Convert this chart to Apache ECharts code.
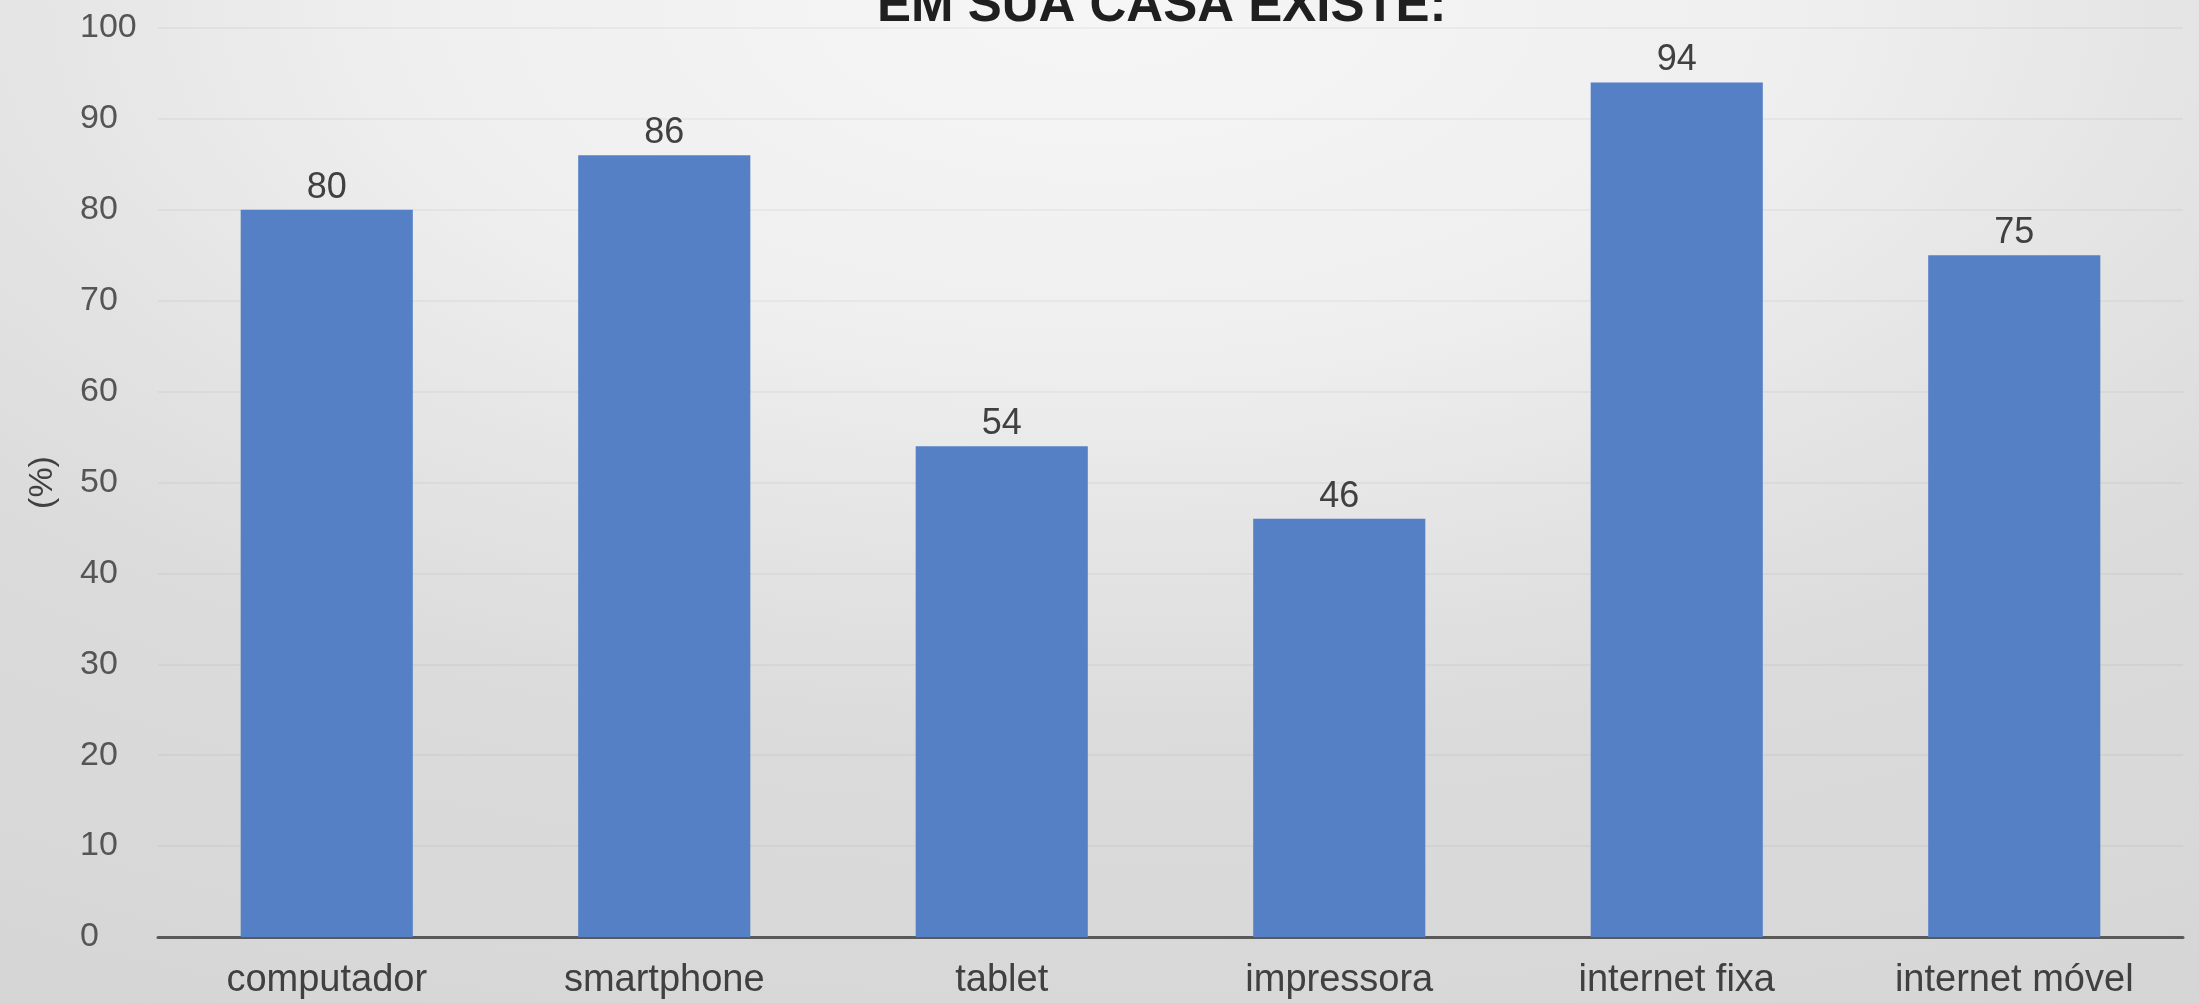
<!DOCTYPE html>
<html>
<head>
<meta charset="utf-8">
<title>Em sua casa existe</title>
<script src="https://cdn.jsdelivr.net/npm/echarts@6/dist/echarts.min.js"></script>
<style>
  html, body { margin: 0; padding: 0; background: #e4e4e4; }
  #chart { width: 2199px; height: 1003px; }
</style>
</head>
<body>
<div id="chart"></div>
<script>
// Household equipment, share of homes (%)
const categories = ['computador', 'smartphone', 'tablet', 'impressora', 'internet fixa', 'internet móvel'];
const values = [80, 86, 54, 46, 94, 75];
const yTicks = { min: 0, max: 100, interval: 10 };

const FONT = '"Liberation Sans", Arial, sans-serif';
const chart = echarts.init(document.getElementById('chart'), null, { renderer: 'canvas' });

chart.setOption({
  animation: false,
  backgroundColor: '#dcdcdc',
  graphic: {
    elements: [{
      // soft elliptical light-gray backdrop, brightest at the top centre
      type: 'rect',
      z: -100,
      silent: true,
      scaleX: 2,
      shape: { x: 0, y: 0, width: 1100, height: 1003 },
      style: {
        fill: {
          type: 'radial', x: 0.5, y: 0, r: 1.15,
          colorStops: [
            { offset: 0, color: '#f6f6f6' },
            { offset: 0.3, color: '#efefef' },
            { offset: 0.48, color: '#e4e4e4' },
            { offset: 0.65, color: '#dbdbdb' },
            { offset: 0.87, color: '#d8d8d8' },
            { offset: 1, color: '#d5d5d5' }
          ]
        }
      }
    }]
  },
  title: {
    text: 'EM SUA CASA EXISTE:',
    left: 877,
    top: -18,
    padding: 0,
    textStyle: {
      fontFamily: FONT,
      fontWeight: 'bold',
      fontSize: 51,
      lineHeight: 50,
      color: '#1f1f1f'
    }
  },
  grid: { left: 158, right: 16, top: 28, bottom: 66, containLabel: false },
  xAxis: {
    type: 'category',
    data: categories,
    axisLine: { show: true, lineStyle: { color: '#595959', width: 3 } },
    axisTick: { show: false },
    axisLabel: {
      margin: 25,
      fontFamily: FONT,
      fontSize: 38,
      color: '#404040',
      interval: 0
    },
    splitLine: { show: false }
  },
  yAxis: {
    type: 'value',
    min: yTicks.min,
    max: yTicks.max,
    interval: yTicks.interval,
    name: '(%)',
    nameLocation: 'middle',
    nameGap: 98,
    nameMoveOverlap: false,
    nameTextStyle: { fontFamily: FONT, fontSize: 34, color: '#404040' },
    axisLine: { show: false },
    axisTick: { show: false },
    axisLabel: {
      align: 'left',
      margin: 78,
      fontFamily: FONT,
      fontSize: 34,
      color: '#555555'
    },
    splitLine: { show: true, lineStyle: { color: 'rgba(0,0,0,0.035)', width: 2 } }
  },
  series: [{
    type: 'bar',
    data: values,
    barCategoryGap: '49%',
    itemStyle: { color: '#5580c5' },
    label: {
      show: true,
      position: 'top',
      distance: 4,
      fontFamily: FONT,
      fontSize: 36,
      color: '#404040'
    }
  }]
});
</script>
</body>
</html>
